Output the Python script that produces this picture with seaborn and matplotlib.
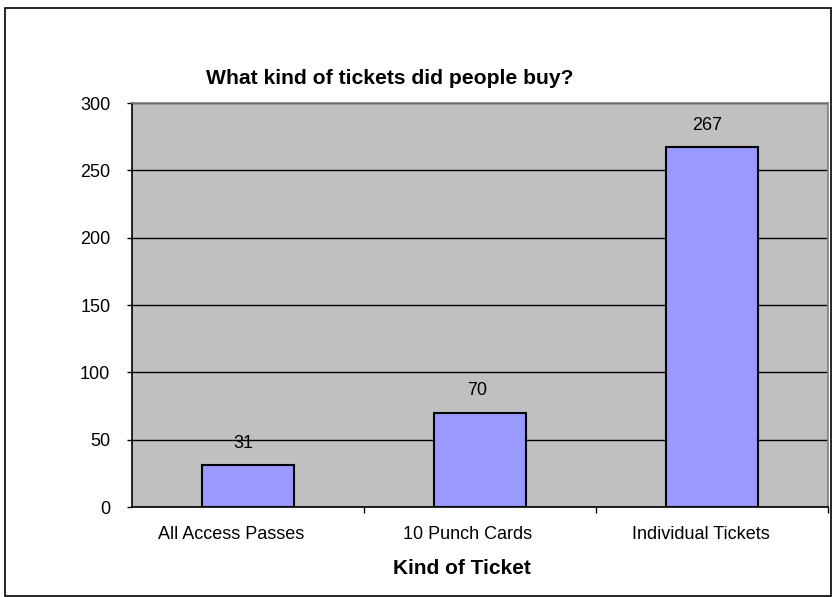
import matplotlib
matplotlib.use("Agg")
import matplotlib.pyplot as plt
import matplotlib.transforms as mtransforms
import seaborn as sns
import pandas as pd
from matplotlib.patches import Rectangle

categories = ["All Access Passes", "10 Punch Cards", "Individual Tickets"]
values = [31, 70, 267]
yticks = [0, 50, 100, 150, 200, 250, 300]

sns.set_theme(style="white")
plt.rcParams['font.family'] = ['Liberation Sans', 'DejaVu Sans']
plt.rcParams['text.color'] = 'black'
plt.rcParams['axes.labelcolor'] = 'black'
plt.rcParams['xtick.color'] = 'black'
plt.rcParams['ytick.color'] = 'black'

df = pd.DataFrame({"cat": categories, "val": values})

fig = plt.figure(figsize=(8.36, 5.97), dpi=100)
ax = fig.add_axes([132/836, 1-507/597, (828-132)/836, (507-103)/597])
ax.set_facecolor("#C0C0C0")
ax.set_axisbelow(True)
ax.yaxis.grid(True, color="black", linewidth=1.0)
sns.barplot(data=df, x="cat", y="val", ax=ax, color="#9999FF", width=0.4,
            edgecolor="black", linewidth=1.5, saturation=1)
ax.set_ylim(0, 300)
ax.set_xlim(-0.5, 2.5)
ax.set_yticks(yticks)
ax.set_yticklabels([str(t) for t in yticks], fontsize=13)
ax.tick_params(axis="x", which="major", labelsize=13, length=0, pad=14)
ax.set_xticks([0.5, 1.5, 2.5], minor=True)
ax.tick_params(axis="x", which="minor", length=4, width=1, color="black", direction="out", bottom=True)
ax.tick_params(axis="y", length=3.6, width=1, color="black", direction="out", pad=12, left=True)

# slight leftward offsets as in the reference rendering
xoffs = [-17, -12, -11]
for lab, dx in zip(ax.get_xticklabels(), xoffs):
    lab.set_transform(lab.get_transform() + mtransforms.ScaledTranslation(dx/100, 0, fig.dpi_scale_trans))

for s in ["left", "bottom"]:
    ax.spines[s].set_color("black")
    ax.spines[s].set_linewidth(1.2)
for s in ["top", "right"]:
    ax.spines[s].set_color("#808080")
    ax.spines[s].set_linewidth(1.2)
ax.set_xlabel("Kind of Ticket", fontsize=15, fontweight="bold", labelpad=12)
ax.xaxis.set_label_coords(462/836, 1-568/597, transform=fig.transFigure)
ax.xaxis.label.set_va("center")
ax.set_ylabel("")
voffs = [-5, -3, -5]
for i, v in enumerate(values):
    t = ax.text(i, v + 16.3, str(v), ha="center", va="center", fontsize=13)
    t.set_transform(t.get_transform() + mtransforms.ScaledTranslation(voffs[i]/100, 0, fig.dpi_scale_trans))

fig.text(390/836, 1-78/597, "What kind of tickets did people buy?", ha="center", va="center",
         fontsize=15.2, fontweight="bold")
fig.patches.append(Rectangle((5/836, 1/597), 826/836, 588/597, transform=fig.transFigure,
                             fill=False, edgecolor="black", linewidth=1.2))
fig.savefig("out.png", dpi=100)
